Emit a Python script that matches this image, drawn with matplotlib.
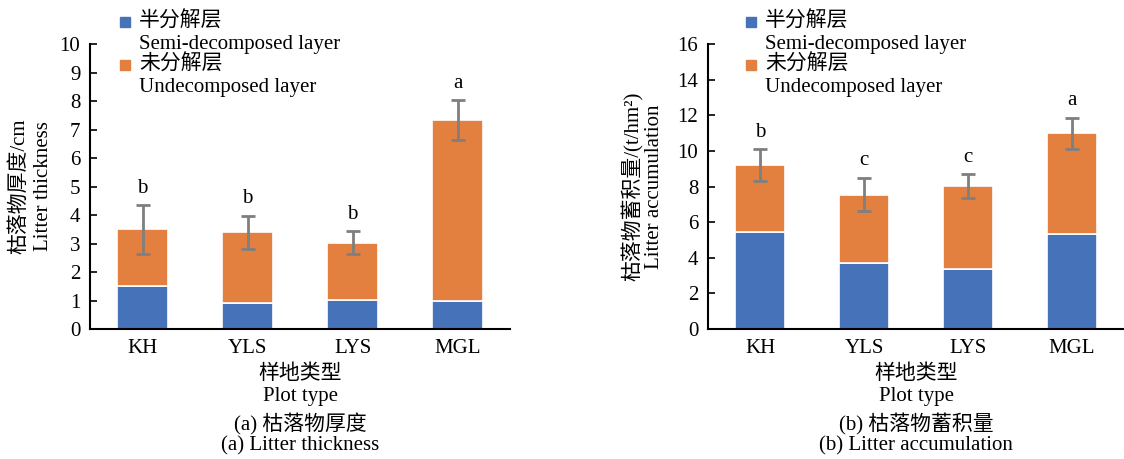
import matplotlib
matplotlib.use('Agg')
import matplotlib.pyplot as plt
from matplotlib.patches import Rectangle
import numpy as np

plt.rcParams['font.family'] = ['Liberation Serif', 'Noto Sans CJK SC']
plt.rcParams['font.size'] = 15

sites = ['KH', 'YLS', 'LYS', 'MGL']

# (a) litter thickness, cm
thick_semi = [1.5, 0.92, 1.03, 0.98]
thick_total = [3.5, 3.4, 3.03, 7.32]
thick_err = [0.86, 0.58, 0.4, 0.7]
thick_sig = ['b', 'b', 'b', 'a']

# (b) litter accumulation, t/hm2
acc_semi = [5.42, 3.7, 3.38, 5.35]
acc_total = [9.2, 7.55, 8.02, 11.0]
acc_err = [0.9, 0.95, 0.68, 0.87]
acc_sig = ['b', 'c', 'c', 'a']

legend_labels = [('半分解层', 'Semi-decomposed layer'), ('未分解层', 'Undecomposed layer')]

blue = '#4672B9'
orange = '#E4803F'

fig = plt.figure(figsize=(11.24, 4.59), dpi=100)
ax1 = fig.add_axes([0.0801, 0.2832, 0.3737, 0.6209])
ax2 = fig.add_axes([0.6299, 0.2832, 0.3701, 0.6209])


def line(ax, txt, dx, dy, rot=0):
    # one text line placed in pixels relative to the axes (dx from left edge, dy below bottom)
    xy = (0.5, 0) if rot == 0 else (0, 0.5)
    ax.annotate(txt, xy=xy, xycoords='axes fraction', xytext=(dx, dy),
                textcoords='offset pixels', ha='center', va='center',
                rotation=rot, annotation_clip=False)


def draw(ax, semi, total, err, sig, ymax, ystep, ylab, caption, ylab_off, leg_x):
    x = np.arange(len(sites))
    undec = np.array(total) - np.array(semi)
    ax.bar(x, semi, width=0.48, color=blue, edgecolor='white', linewidth=1.2)
    ax.bar(x, undec, bottom=semi, width=0.48, color=orange, edgecolor='white', linewidth=1.2)
    ax.errorbar(x, total, yerr=err, fmt='none', ecolor='#7f7f7f', elinewidth=2,
                capsize=5, capthick=2)
    for xi, t, e, s in zip(x, total, err, sig):
        ax.text(xi, t + e + ymax * 0.025, s, ha='center', va='bottom', fontsize=15)
    ax.set_xlim(-0.5, 3.5)
    ax.set_ylim(0, ymax)
    ax.set_yticks(np.arange(0, ymax + 0.01, ystep))
    ax.set_xticks(x)
    ax.set_xticklabels(sites)
    ax.spines['top'].set_visible(False)
    ax.spines['right'].set_visible(False)
    ax.spines['left'].set_linewidth(1.5)
    ax.spines['bottom'].set_linewidth(1.5)
    ax.tick_params(axis='y', direction='in', length=5, width=1.2, pad=7)
    ax.tick_params(axis='x', length=0, pad=7)

    # y label, two lines
    line(ax, ylab[0], -ylab_off[0], 0, rot=90)
    line(ax, ylab[1], -ylab_off[1], 0, rot=90)
    # x label and caption
    line(ax, '样地类型', 0, -45)
    line(ax, 'Plot type', 0, -67)
    line(ax, caption[0], 0, -95)
    line(ax, caption[1], 0, -117)

    # legend drawn by hand: square beside the Chinese line, English line below
    w = ax.bbox.width
    h = ax.bbox.height
    cols = [blue, orange]
    tops = [22, 65]  # px above the axes top... measured from figure top
    for (cn, en), c, yc in zip(legend_labels, cols, tops):
        ya = (285 - (yc - 44)) / 285  # axes fraction; axes top is at 44px
        ax.add_patch(Rectangle((leg_x, ya - 5 / h), 10 / w, 10 / h, transform=ax.transAxes,
                               color=c, clip_on=False))
        tx = leg_x + 19 / w
        ax.text(tx, ya, cn, transform=ax.transAxes, ha='left', va='center')
        ax.text(tx, ya - 22 / h, en, transform=ax.transAxes, ha='left', va='center')


draw(ax1, thick_semi, thick_total, thick_err, thick_sig, 10, 1,
     ('枯落物厚度/cm', 'Litter thickness'), ('(a) 枯落物厚度', '(a) Litter thickness'),
     (70, 47), 30 / 420)
draw(ax2, acc_semi, acc_total, acc_err, acc_sig, 16, 2,
     ('枯落物蓄积量/(t/hm²)', 'Litter accumulation'), ('(b) 枯落物蓄积量', '(b) Litter accumulation'),
     (75, 54), 38 / 416)

fig.savefig('out.png', dpi=100)
